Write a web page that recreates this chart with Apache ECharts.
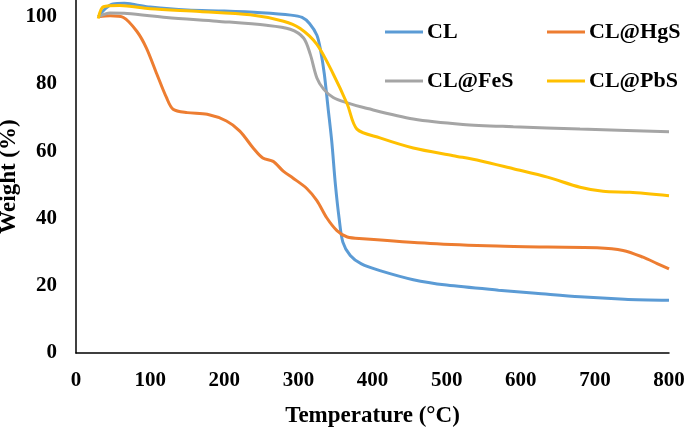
<!DOCTYPE html>
<html><head><meta charset="utf-8">
<script src="https://cdn.jsdelivr.net/npm/echarts@6/dist/echarts.min.js"></script>
<style>html,body{margin:0;padding:0;background:#fff}#c{width:685px;height:436px}</style>
</head><body><div id="c"></div>
<script>
var seriesNames = ['CL', 'CL@HgS', 'CL@FeS', 'CL@PbS'];
var xTicks = [0, 100, 200, 300, 400, 500, 600, 700, 800];
var yTicks = [0, 20, 40, 60, 80, 100];

var clT = [30, 40, 50, 65, 80, 100, 150, 200, 250, 290, 305, 315, 325, 330, 335, 340, 345, 350, 355, 360, 370, 385, 410, 455, 500, 570, 620, 680, 740, 800];
var clW = [100, 102.5, 103.8, 104, 103.6, 102.9, 102, 101.7, 101.2, 100.5, 99.8, 98, 94.5, 90, 83, 73, 63, 50, 40, 33, 29, 26.5, 24.5, 21.8, 20.2, 18.7, 17.8, 16.7, 16, 15.7];

var hgsT = [30, 46, 64, 82, 95, 109, 122, 131, 150, 177, 203, 221, 239, 252, 266, 280, 293, 311, 325, 338, 352, 366, 387, 478, 568, 636, 703, 738, 765, 784, 800];
var hgsW = [100, 100.3, 99.8, 95.7, 90.7, 83, 76, 72.5, 71.5, 71, 69, 66, 61, 58, 57, 54, 52, 49, 45.3, 40.3, 36.4, 34.5, 34, 32.6, 31.8, 31.5, 31.3, 30.5, 28.5, 26.6, 25];

var fesT = [30, 46, 69, 122, 190, 257, 289, 307, 316, 325, 334, 347, 366, 388, 455, 522, 590, 680, 800];
var fesW = [100, 101.1, 101, 99.8, 98.7, 97.5, 96.3, 93.7, 88.9, 81.8, 78.5, 76, 74.4, 73, 69.6, 68, 67.3, 66.6, 65.8];

var pbsT = [30, 37, 59, 100, 167, 235, 280, 302, 325, 347, 366, 379, 410, 455, 509, 545, 590, 636, 680, 711, 747, 800];
var pbsW = [99.5, 103, 103.4, 102.4, 101.6, 100.6, 98.7, 96.6, 91.8, 83, 74, 66.6, 64, 61, 58.7, 57.2, 54.8, 52.3, 49.3, 48.1, 47.8, 46.8];

var colors = ['#5B9BD5', '#ED7D31', '#A5A5A5', '#FFC000'];
var tData = [clT, hgsT, fesT, pbsT];
var wData = [clW, hgsW, fesW, pbsW];

function pairs(t, w) { return t.map(function (v, i) { return [v, w[i]]; }); }

var font = 'Liberation Serif';
var legendPos = [[385, 21], [547, 21], [385, 70], [547, 70]];

var chart = echarts.init(document.getElementById('c'));
chart.setOption({
  animation: false,
  backgroundColor: '#fff',
  grid: { left: 76, right: 16, top: 0, bottom: 83, containLabel: false, outerBoundsMode: 'none' },
  legend: seriesNames.map(function (n, i) {
    return {
      data: [n], left: legendPos[i][0], top: legendPos[i][1], padding: 0,
      itemWidth: 38, itemHeight: 24, itemGap: 0,
      icon: 'path://M0,10.5 L38,10.5 L38,13.5 L0,13.5 Z',
      textStyle: { fontFamily: font, fontWeight: 'bold', fontSize: 22, color: '#000', padding: [0, 0, 0, -1] }
    };
  }),
  xAxis: {
    type: 'value', min: 0, max: 800, interval: 100,
    name: 'Temperature (°C)', nameLocation: 'middle', nameGap: 52, nameMoveOverlap: false,
    nameTextStyle: { fontFamily: font, fontWeight: 'bold', fontSize: 23, color: '#000' },
    axisLine: { show: true, lineStyle: { color: '#000', width: 1.5 } },
    axisTick: { show: false },
    splitLine: { show: false },
    axisLabel: { fontFamily: font, fontWeight: 'bold', fontSize: 21, color: '#000', margin: 17,
      formatter: function (v) { return xTicks.indexOf(v) >= 0 ? String(v) : ''; } }
  },
  yAxis: {
    type: 'value', min: 0, max: 105, interval: 20,
    name: 'Weight (%)', nameLocation: 'middle', nameGap: 55, nameRotate: 90, nameMoveOverlap: false,
    nameTextStyle: { fontFamily: font, fontWeight: 'bold', fontSize: 23, color: '#000' },
    axisLine: { show: true, lineStyle: { color: '#000', width: 1.5 } },
    axisTick: { show: false },
    splitLine: { show: false },
    axisLabel: { fontFamily: font, fontWeight: 'bold', fontSize: 21, color: '#000', margin: 19,
      showMaxLabel: false,
      formatter: function (v) { return yTicks.indexOf(v) >= 0 ? String(v) : ''; } }
  },
  series: seriesNames.map(function (n, i) {
    return {
      name: n, type: 'line', smooth: 0.3, showSymbol: false, symbol: 'none',
      data: pairs(tData[i], wData[i]),
      lineStyle: { color: colors[i], width: 3 },
      itemStyle: { color: colors[i] }
    };
  })
});
</script></body></html>
